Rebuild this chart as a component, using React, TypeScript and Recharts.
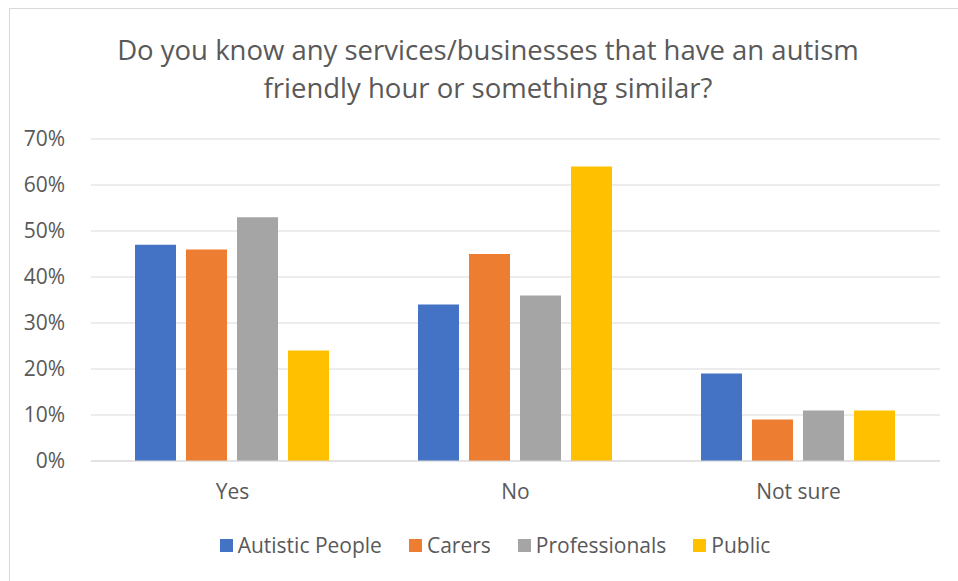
import React from 'react';
import { BarChart, Bar, XAxis, YAxis, CartesianGrid, Legend, Customized } from 'recharts';

const categories = ['Yes', 'No', 'Not sure'];
const autisticPeople = [47, 34, 19];
const carers = [46, 45, 9];
const professionals = [53, 36, 11];
const publicVals = [24, 64, 11];
const yTicks = [0, 10, 20, 30, 40, 50, 60, 70];
const titleLines = ['Do you know any services/businesses that have an autism', 'friendly hour or something similar?'];

const seriesDefs = [
  { key: 'autistic', name: 'Autistic People', color: '#4472C4', values: autisticPeople },
  { key: 'carers', name: 'Carers', color: '#ED7D31', values: carers },
  { key: 'professionals', name: 'Professionals', color: '#A5A5A5', values: professionals },
  { key: 'public', name: 'Public', color: '#FFC000', values: publicVals },
];

const data = categories.map((c, i) => {
  const row: any = { category: c };
  seriesDefs.forEach((s) => { row[s.key] = s.values[i]; });
  return row;
});

const FONT = '"Open Sans", sans-serif';

const Title = () => (
  <g>
    {titleLines.map((t, i) => (
      <text key={i} x={488} y={60 + i * 38} textAnchor="middle" fontFamily={FONT} fontSize={27.5} fill="#595959">
        {t}
      </text>
    ))}
  </g>
);

const LegendContent = () => (
  <div style={{ display: 'flex', justifyContent: 'center', alignItems: 'center', fontFamily: FONT, fontSize: 21, color: '#595959', paddingLeft: 50 }}>
    {seriesDefs.map((s, i) => (
      <div key={s.key} style={{ display: 'flex', alignItems: 'center', marginRight: i < seriesDefs.length - 1 ? 27 : 0 }}>
        <span style={{ display: 'inline-block', width: 13, height: 13, background: s.color, marginRight: 5 }} />
        <span>{s.name}</span>
      </div>
    ))}
  </div>
);

export default function App() {
  return (
    <div style={{ position: 'absolute', left: 0, top: 0, width: 958, height: 581, background: '#fff' }}>
      <div style={{ position: 'absolute', left: 9, top: 8, width: 949, height: 573, borderTop: '1px solid #d9d9d9', borderLeft: '1px solid #d9d9d9' }} />
      <div style={{ position: 'absolute', left: 0, top: 0 }}>
        <BarChart
          width={958}
          height={581}
          data={data}
          margin={{ top: 139, right: 18, left: 0, bottom: 0 }}
          barCategoryGap={44}
          barGap={10}
        >
          <CartesianGrid vertical={false} stroke="#d9d9d9" strokeWidth={1} />
          <XAxis
            dataKey="category"
            axisLine={{ stroke: '#d9d9d9' }}
            tickLine={false}
            height={70}
            tickMargin={17}
            tick={{ fontFamily: FONT, fontSize: 21, fill: '#595959' }}
          />
          <YAxis
            width={91}
            domain={[0, 70]}
            ticks={yTicks}
            tickFormatter={(v: number) => `${v}%`}
            axisLine={false}
            tickLine={false}
            tickMargin={20}
            tick={{ fontFamily: FONT, fontSize: 21, fill: '#595959' }}
          />
          {seriesDefs.map((s) => (
            <Bar key={s.key} dataKey={s.key} name={s.name} fill={s.color} isAnimationActive={false} />
          ))}
          <Legend verticalAlign="bottom" height={50} content={<LegendContent />} />
          <Customized component={Title} />
        </BarChart>
      </div>
    </div>
  );
}
